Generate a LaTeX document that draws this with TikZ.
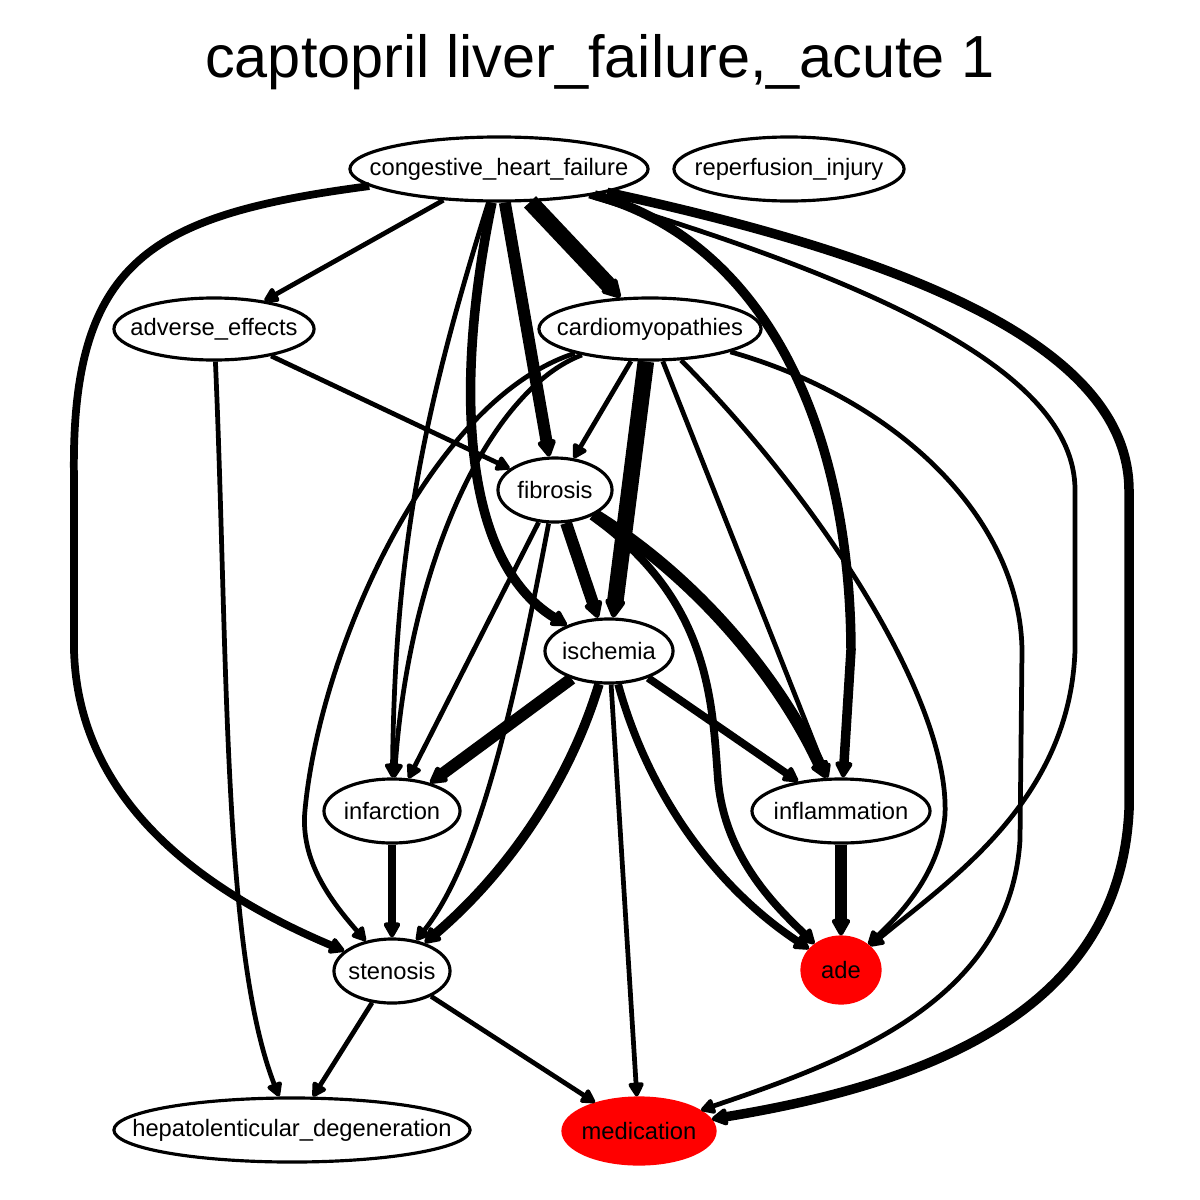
\documentclass[tikz,border=0pt]{standalone}
\usepackage{fontspec}
\setmainfont{Liberation Sans}
\usetikzlibrary{arrows.meta,shapes.geometric}
\tikzset{
    >={Triangle[round, length=4pt 0.45, width=4.2pt 0.45]} % Default arrow tip
}
\tikzstyle{vertex}=[
    draw,
    ellipse,
    line width = 0.9pt,
    inner sep = 0cm,
    font = \fontsize{6.75}{8}\selectfont
]
\tikzstyle{target}=[
    vertex,
    draw = red,
    fill = red
]
\tikzstyle{w1}=[line width = 1.35pt]
\tikzstyle{w2}=[line width = 2.2pt]
\tikzstyle{w3}=[line width = 2.7pt]
\tikzstyle{w4}=[line width = 3.4pt]
\tikzstyle{w5}=[line width = 4.7pt]
\newcommand{\nm}[1]{\makebox[0pt]{#1}}

\begin{document}
\begin{tikzpicture}[x=0.01cm, y=-0.01cm]
    \useasboundingbox (0, 0) rectangle (1200, 1200);

    \node (title) at (600, 62) {\fontsize{16.9}{20}\selectfont captopril liver\_failure,\_acute 1};

    \draw node [vertex, minimum width=2.98cm, minimum height=0.64cm] (chf) at (499, 169) {\nm{congestive\_heart\_failure}};
    \draw node [vertex, minimum width=2.30cm, minimum height=0.64cm] (reperf) at (789, 169) {\nm{reperfusion\_injury}};
    \draw node [vertex, minimum width=2.00cm, minimum height=0.62cm] (adverse) at (214, 329) {\nm{adverse\_effects}};
    \draw node [vertex, minimum width=2.22cm, minimum height=0.62cm] (cardio) at (650, 329) {\nm{cardiomyopathies}};
    \draw node [vertex, minimum width=1.14cm, minimum height=0.64cm] (fibrosis) at (555, 490) {\nm{fibrosis}};
    \draw node [vertex, minimum width=1.28cm, minimum height=0.64cm] (ischemia) at (609, 651) {\nm{ischemia}};
    \draw node [vertex, minimum width=1.36cm, minimum height=0.64cm] (infarct) at (392, 811) {\nm{infarction}};
    \draw node [vertex, minimum width=1.78cm, minimum height=0.64cm] (inflam) at (841, 811) {\nm{inflammation}};
    \draw node [vertex, minimum width=1.16cm, minimum height=0.64cm] (stenosis) at (392, 971) {\nm{stenosis}};
    \draw node [target, minimum width=0.78cm, minimum height=0.66cm] (ade) at (841, 970) {\nm{ade}};
    \draw node [vertex, minimum width=3.56cm, minimum height=0.64cm] (hepato) at (292, 1130) {\nm{hepatolenticular\_degeneration}};
    \draw node [target, minimum width=1.52cm, minimum height=0.66cm] (medication) at (639, 1131) {\nm{medication}};

    % congestive_heart_failure
    \draw [w1, ->] (chf) -- (adverse);
    \draw [w5, ->] (chf) -- (cardio);
    \draw [w4, ->] (chf) -- (fibrosis);
    \draw [w3, ->] (chf) .. controls (455, 380) and (460, 560) .. (ischemia);
    \draw [w1, ->] (chf) .. controls (420, 420) and (395, 560) .. (infarct);
    \draw [w2, ->] (chf) .. controls (150, 215) and (70, 260) .. (74, 480) -- (74, 650) .. controls (78, 800) and (200, 890) .. (stenosis);
    \draw [w3, ->] (chf) .. controls (760, 240) and (850, 420) .. (851, 650) -- (inflam);
    \draw [w1, ->] (chf) .. controls (870, 280) and (1075, 370) .. (1075, 490) -- (1075, 650) .. controls (1070, 800) and (950, 880) .. (ade);
    \draw [w3, ->] (chf) .. controls (920, 260) and (1128, 350) .. (1129, 490) -- (1129, 810) .. controls (1120, 1000) and (950, 1080) .. (medication);

    % adverse_effects
    \draw [w1, ->] (adverse) -- (fibrosis);
    \draw [w1, ->] (adverse) .. controls (228, 650) and (222, 950) .. (hepato);

    % cardiomyopathies
    \draw [w1, ->] (cardio) -- (fibrosis);
    \draw [w5, ->] (cardio) -- (ischemia);
    \draw [w1, ->] (cardio) .. controls (490, 390) and (410, 560) .. (infarct);
    \draw [w1, ->] (cardio) .. controls (430, 400) and (320, 650) .. (305, 810) .. controls (300, 860) and (330, 900) .. (stenosis);
    \draw [w1, ->] (cardio) -- (inflam);
    \draw [w1, ->] (cardio) .. controls (820, 500) and (950, 700) .. (945, 815) .. controls (940, 870) and (905, 910) .. (ade);
    \draw [w1, ->] (cardio) .. controls (900, 400) and (1020, 520) .. (1022, 650) -- (1020, 840) .. controls (1010, 1000) and (850, 1060) .. (medication);

    % fibrosis
    \draw [w4, ->] (fibrosis) -- (ischemia);
    \draw [w1, ->] (fibrosis) -- (infarct);
    \draw [w1, ->] (fibrosis) .. controls (515, 700) and (480, 860) .. (stenosis);
    \draw [w4, ->] (fibrosis) .. controls (700, 580) and (780, 680) .. (inflam);
    \draw [w2, ->] (fibrosis) .. controls (710, 600) and (712, 700) .. (718, 780) .. controls (725, 860) and (780, 910) .. (ade);

    % ischemia
    \draw [w4, ->] (ischemia) -- (infarct);
    \draw [w3, ->] (ischemia) .. controls (570, 780) and (510, 870) .. (stenosis);
    \draw [w2, ->] (ischemia) -- (inflam);
    \draw [w2, ->] (ischemia) .. controls (650, 800) and (720, 890) .. (ade);
    \draw [w1, ->] (ischemia) -- (medication);

    \draw [w2, ->] (infarct) -- (stenosis);
    \draw [w4, ->] (inflam) -- (ade);
    \draw [w1, ->] (stenosis) -- (hepato);
    \draw [w1, ->] (stenosis) -- (medication);
\end{tikzpicture}
\end{document}
